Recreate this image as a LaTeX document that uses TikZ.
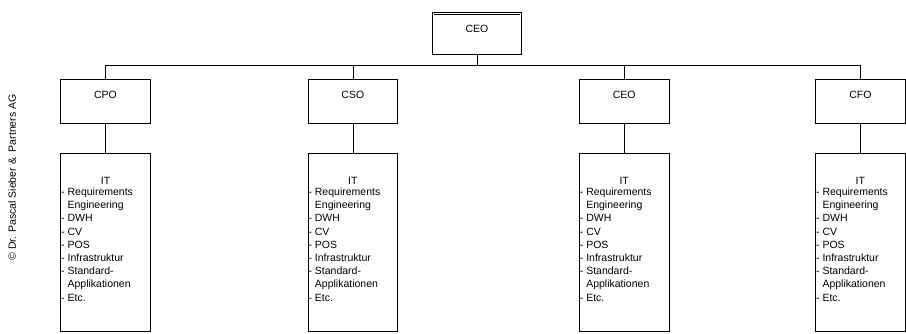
\documentclass[tikz,border=0pt]{standalone}
\usepackage{fontspec}
\setmainfont{Liberation Sans}
\usetikzlibrary{calc}

\tikzset{
  txt/.style={font=\fontsize{10.5}{12.6}\selectfont},
  listtxt/.style={font=\fontsize{10.5}{13.2}\selectfont},
  topbox/.style={txt, draw, line width=0.6pt, double, double distance=1.2pt,
    minimum width=87.6pt, minimum height=40.3pt, inner sep=0pt,
    text height=7.5pt, text depth=10.4pt},
  rolebox/.style={txt, draw, line width=0.7pt, minimum width=89.5pt,
    minimum height=44pt, inner sep=0pt, text height=7.5pt, text depth=14pt},
  itbox/.style={draw, line width=0.7pt, minimum width=89.5pt,
    minimum height=178pt, inner sep=0pt},
  ittitle/.style={txt, inner sep=0pt, anchor=center},
  itlist/.style={listtxt, inner sep=0pt, anchor=north west, align=left},
  link/.style={line width=0.6pt},
  buslink/.style={line width=1pt},
}

\newcommand{\itlines}{-\ Requirements\\ \hphantom{-\ }Engineering\\ -\ DWH\\ -\ CV\\ -\ POS\\ -\ Infrastruktur\\ -\ Standard-\\ \hphantom{-\ }Applikationen\\ -\ Etc.}

\begin{document}
\begin{tikzpicture}[x=1pt, y=-1pt]
  \useasboundingbox (0,0) rectangle (906,333);

  % copyright line along the left margin
  \node[txt, rotate=90, inner sep=0pt] (copy) at (12,177.5)
    {\textcopyright\ Dr. Pascal Sieber \&\ \ Partners AG};

  % top of the hierarchy
  \node[topbox] (ceo) at (477,33.7) {CEO};

  % second level
  \node[rolebox] (cpo)  at (105.5,101.5) {CPO};
  \node[rolebox] (cso)  at (352.8,101.5) {CSO};
  \node[rolebox] (ceob) at (624.2,101.5) {CEO};
  \node[rolebox] (cfo)  at (860.4,101.5) {CFO};

  % IT responsibility boxes
  \foreach \n/\r/\x in {1/cpo/105.5, 2/cso/352.8, 3/ceob/624.2, 4/cfo/860.4}{
    \node[itbox] (it\n) at (\x,242.4) {};
    \node[ittitle] (itt\n) at ($(it\n.north)+(0,27.5)$) {IT};
    \node[itlist] (itl\n) at ($(it\n.north west)+(0.6,34.6)$) {\itlines};
    \draw[link] (\r.south) -- (it\n.north);
  }

  % bus line connecting the second level to the top
  \coordinate (busL) at (105.5,65);
  \coordinate (busR) at (860.4,65);
  \draw[buslink] (busL) -- (busR);
  \draw[buslink] (ceo.south) -- (ceo.south |- busL);
  \foreach \r in {cpo, cso, ceob, cfo}
    \draw[link] (\r.north) -- (\r.north |- busL);
\end{tikzpicture}
\end{document}
